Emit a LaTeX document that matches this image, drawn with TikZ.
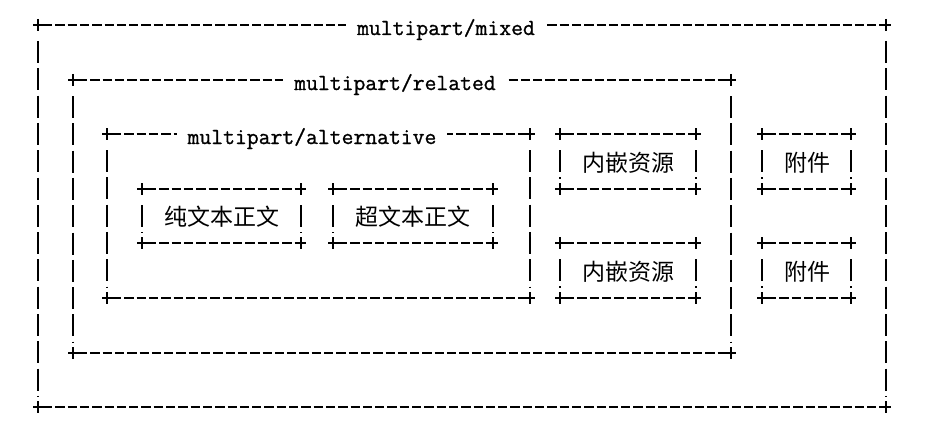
\documentclass[tikz,border=0pt]{standalone}
\usepackage{fontspec}
\newfontfamily\cjk{Noto Sans CJK SC}
\newfontfamily\asciifont[FakeBold=1]{Latin Modern Mono}
\usetikzlibrary{calc}

\begin{document}
\begin{tikzpicture}[
    x=1pt, y=-1pt,
    line width=2pt,
    hdash/.style={dash pattern=on 9.3pt off 3pt},
    vdash/.style={dash pattern=on 22pt off 5.3pt},
    title/.style={font=\asciifont\fontsize{23}{23}\selectfont, fill=white, inner xsep=11pt, inner ysep=0pt, anchor=base},
    part/.style={font=\cjk\fontsize{23}{23}\selectfont, inner sep=0pt}
]
    \path[fill=white, use as bounding box] (0,0) rectangle (932,436);

    % Boxes: left x / top row / right x / bottom row
    \foreach \xa/\ra/\xb/\rb in {38/0/886/14, 73/2/731/12, 107/4/530/10,
        142/6/301/8, 333/6/493/8, 560/4/696/6, 560/8/696/10,
        762/4/851/6, 762/8/851/10}{
        \pgfmathsetmacro\ya{round(25+27.3*\ra)}
        \pgfmathsetmacro\yb{round(25+27.3*\rb)}
        \draw[hdash] (\xa+5,\ya) -- (\xb-5,\ya);
        \draw[hdash] (\xa+5,\yb) -- (\xb-5,\yb);
        \draw[vdash] (\xa,\ya+16) -- (\xa,\yb-10);
        \draw[vdash] (\xb,\ya+16) -- (\xb,\yb-10);
        \foreach \cx/\cy in {\xa/\ya, \xa/\yb, \xb/\ya, \xb/\yb}
            \draw (\cx-5,\cy) -- (\cx+5,\cy) (\cx,\cy-6) -- (\cx,\cy+6);
    }

    % Titles
    \node[title] (mixed) at (446, 35) {multipart/mixed};
    \node[title] (related) at (395, 90) {multipart/related};
    \node[title] (alternative) at (312, 144) {multipart/alternative};

    % Parts
    \node[part] (plain) at (222, 217) {纯文本正文};
    \node[part] (html) at (413, 217) {超文本正文};
    \node[part] (resA) at (628, 163) {内嵌资源};
    \node[part] (resB) at (628, 272) {内嵌资源};
    \node[part] (attA) at (807, 163) {附件};
    \node[part] (attB) at (807, 272) {附件};
\end{tikzpicture}
\end{document}
